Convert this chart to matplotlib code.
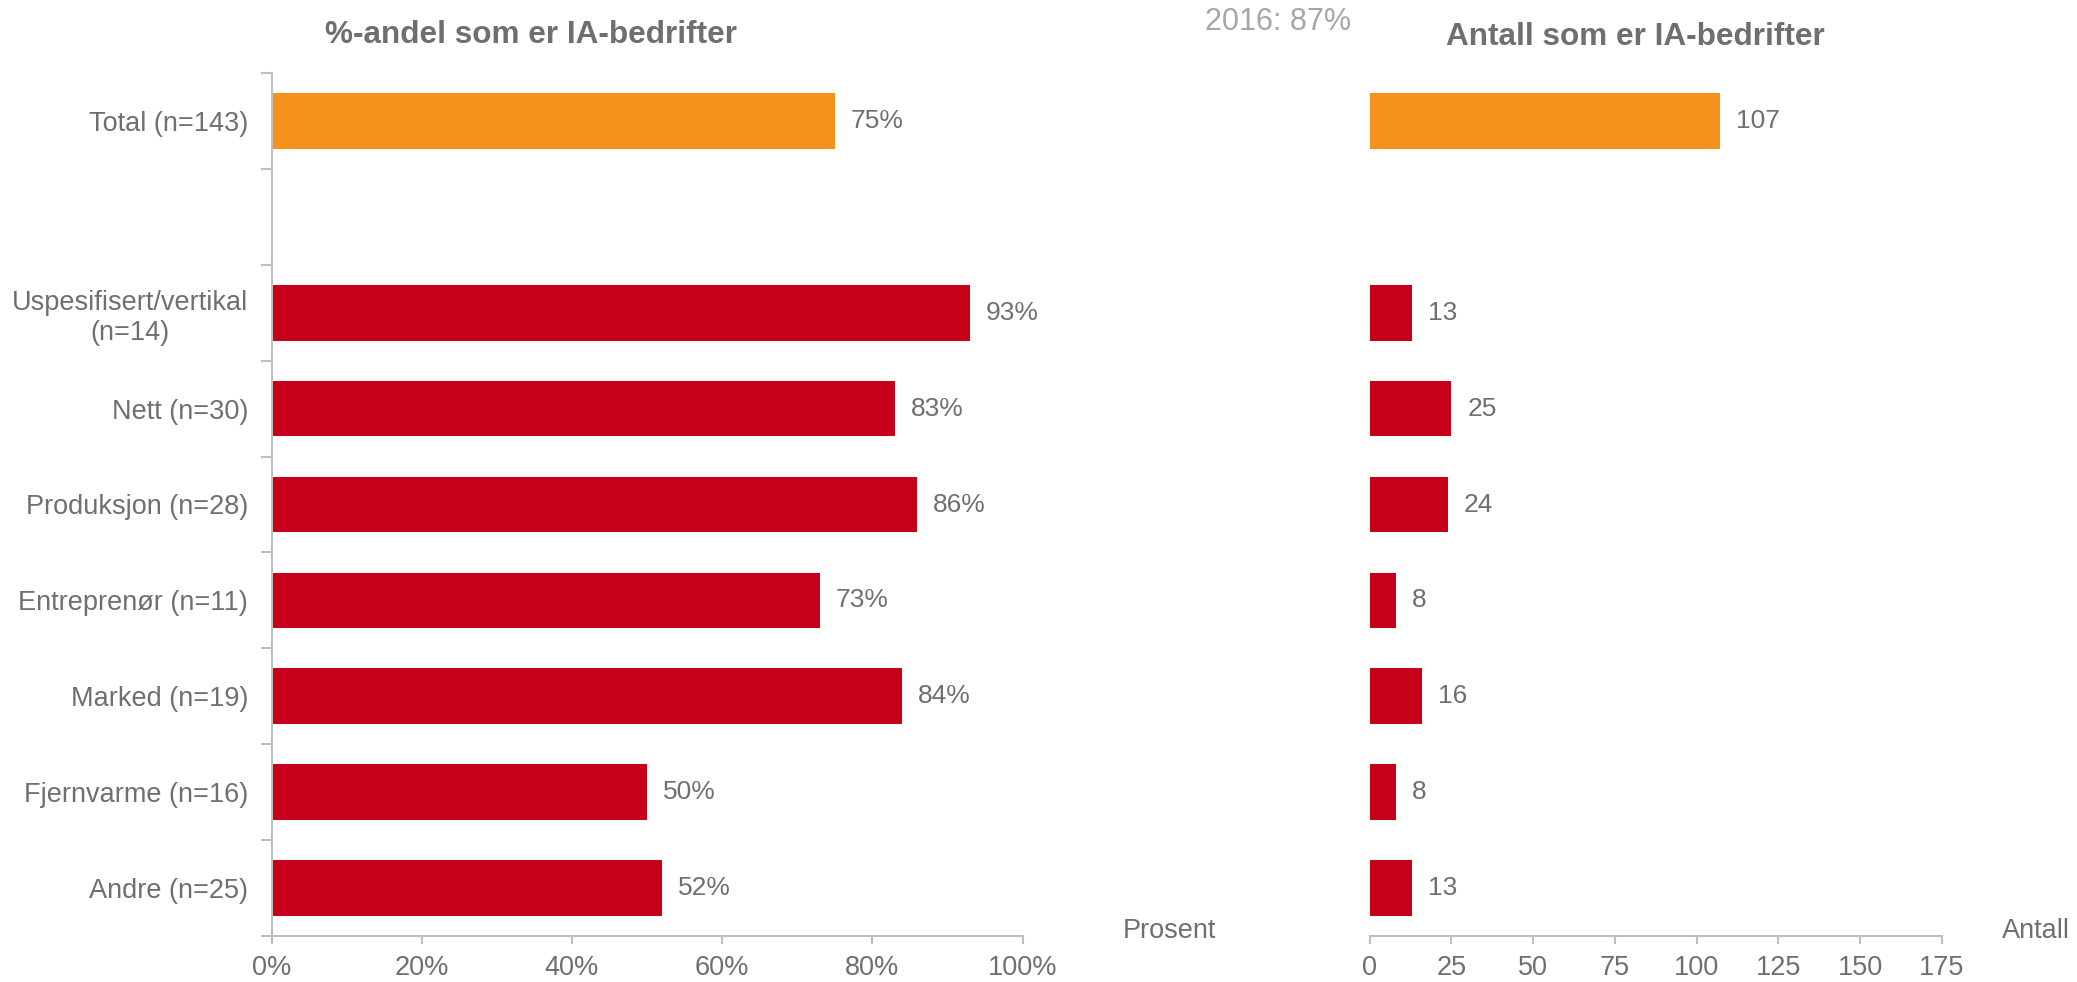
import matplotlib
matplotlib.use("Agg")
import matplotlib.pyplot as plt
from matplotlib.ticker import FixedLocator

plt.rcParams['font.family'] = ['Liberation Sans', 'DejaVu Sans']

# ---- data ----
categories = ["Total (n=143)", "", "Uspesifisert/vertikal\n(n=14)", "Nett (n=30)",
              "Produksjon (n=28)", "Entreprenør (n=11)", "Marked (n=19)",
              "Fjernvarme (n=16)", "Andre (n=25)"]
pct_values = [75, None, 93, 83, 86, 73, 84, 50, 52]
count_values = [107, None, 13, 25, 24, 8, 16, 8, 13]
pct_ticks = [0, 20, 40, 60, 80, 100]
pct_ticklabels = ["0%", "20%", "40%", "60%", "80%", "100%"]
count_ticks = [0, 25, 50, 75, 100, 125, 150, 175]

ORANGE = "#F5921E"
RED = "#C60018"
TXT = "#6F6F6F"
AX = "#BFBFBF"

fig = plt.figure(figsize=(20.77, 9.82), dpi=100)
bottom, top = 1 - 936 / 982, 1 - 73 / 982
axL = fig.add_axes([271.5 / 2077, bottom, (1022.5 - 271.5) / 2077, top - bottom])
axR = fig.add_axes([1369.6 / 2077, bottom, (1942 - 1369.6) / 2077, top - bottom])

pos = list(range(len(categories)))
bar_h = 0.58

def draw(ax, vals, fmt):
    for i, v in zip(pos, vals):
        if v is None:
            continue
        col = ORANGE if i == 0 else RED
        ax.barh(i, v, height=bar_h, color=col, edgecolor="none")
        ax.annotate(fmt(v), xy=(v, i), xytext=(11.5, 0), textcoords="offset points",
                    ha="left", va="center", fontsize=19, color=TXT)
    ax.set_ylim(len(categories) - 0.5, -0.5)
    for s in ["top", "right"]:
        ax.spines[s].set_visible(False)
    ax.spines["bottom"].set_color(AX)
    ax.spines["bottom"].set_linewidth(1.5)
    ax.tick_params(axis="x", colors=AX, length=6, width=1.5, labelsize=19.5,
                   labelcolor=TXT, pad=8)

# Left chart
draw(axL, pct_values, lambda v: f"{v}%")
axL.set_xlim(0, 100)
axL.set_xticks(pct_ticks)
axL.set_xticklabels(pct_ticklabels)
axL.set_yticks(pos)
axL.set_yticklabels(categories, multialignment="center")
axL.yaxis.set_minor_locator(FixedLocator([p - 0.5 for p in pos] + [len(pos) - 0.5]))
axL.tick_params(axis="y", which="major", length=0, labelsize=19.5, labelcolor=TXT, pad=17)
axL.tick_params(axis="y", which="minor", length=8, width=1.5, color=AX)
axL.spines["left"].set_color(AX)
axL.spines["left"].set_linewidth(1.5)

# Right chart
draw(axR, count_values, lambda v: f"{v}")
axR.set_xlim(0, 175)
axR.set_xticks(count_ticks)
axR.set_yticks([])
axR.spines["left"].set_visible(False)

# Texts
fig.text(531 / 2077, 1 - 35 / 982, "%-andel som er IA-bedrifter", ha="center", va="center",
         fontsize=22.7, fontweight="bold", color=TXT)
fig.text(1635 / 2077, 1 - 37 / 982, "Antall som er IA-bedrifter", ha="center", va="center",
         fontsize=22.7, fontweight="bold", color=TXT)
fig.text(1278 / 2077, 1 - 22 / 982, "2016: 87%", ha="center", va="center",
         fontsize=22, color="#A6A6A6")
fig.text(1216 / 2077, 1 - 931 / 982, "Prosent", ha="right", va="center", fontsize=19.5, color=TXT)
fig.text(2070 / 2077, 1 - 931 / 982, "Antall", ha="right", va="center", fontsize=19.5, color=TXT)

fig.savefig("out.png", dpi=100)
